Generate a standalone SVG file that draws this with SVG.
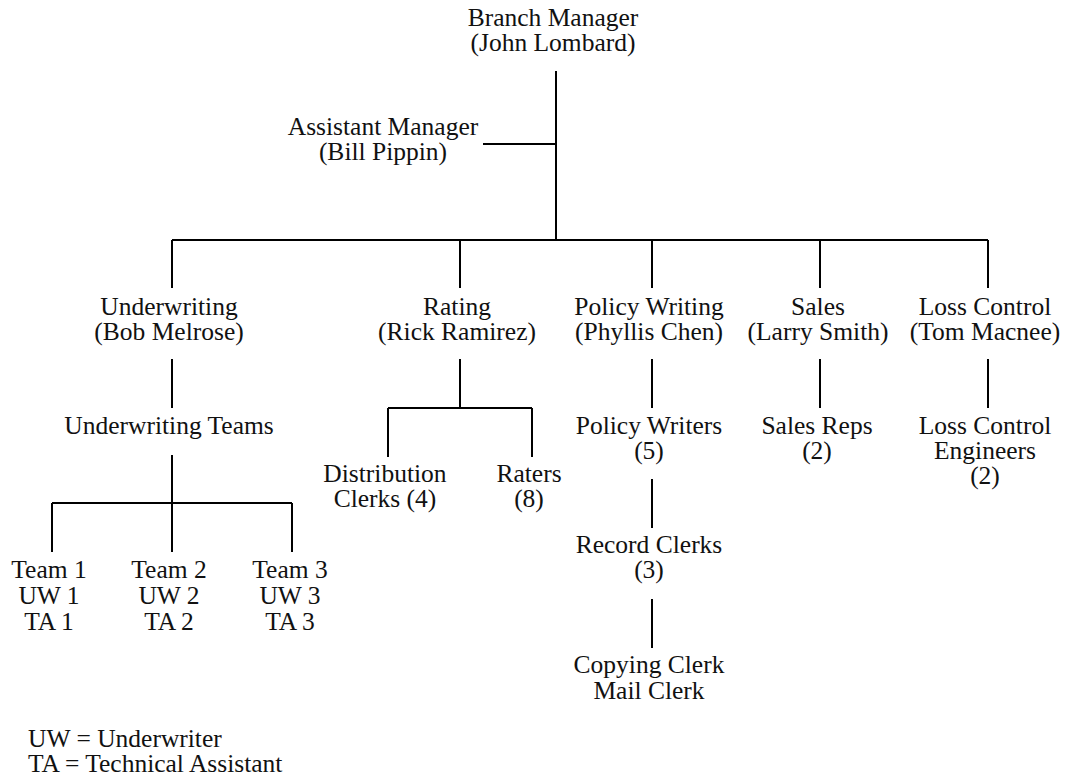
<svg xmlns="http://www.w3.org/2000/svg" width="1066" height="779" viewBox="0 0 1066 779">
<style>
text{font-family:"Palatino Linotype","Book Antiqua",Palatino,"Liberation Serif",serif;font-size:25.5px;fill:#111;text-anchor:middle}
.l{text-anchor:start}
.c{fill:none;stroke:#000;stroke-width:2}
</style>
<rect width="1066" height="779" fill="#fff"/>
<g id="connectors" class="c">
<path d="M556,71V240M483,144H556M172,240H988"/>
<path d="M172,240V288M460,240V288M652,240V288M820,240V288M988,240V288"/>
<path d="M172,359V408M172,455V503M52,503H292M52,503V552M172,503V552M292,503V552"/>
<path d="M460,359V408M388,408H532M388,408V457M532,408V457"/>
<path d="M652,359V408M652,479V528M652,599V648"/>
<path d="M820,359V408M988,359V408"/>
</g>
<g id="branch-manager"><text x="553" y="26">Branch Manager<tspan x="553" dy="25">(John Lombard)</tspan></text></g>
<g id="assistant-manager"><text x="383" y="135">Assistant Manager<tspan x="383" dy="25">(Bill Pippin)</tspan></text></g>
<g id="underwriting"><text x="169" y="315">Underwriting<tspan x="169" dy="25">(Bob Melrose)</tspan></text></g>
<g id="rating"><text x="457" y="315">Rating<tspan x="457" dy="25">(Rick Ramirez)</tspan></text></g>
<g id="policy-writing"><text x="649" y="315">Policy Writing<tspan x="649" dy="25">(Phyllis Chen)</tspan></text></g>
<g id="sales"><text x="818" y="315">Sales<tspan x="818" dy="25">(Larry Smith)</tspan></text></g>
<g id="loss-control"><text x="985" y="315">Loss Control<tspan x="985" dy="25">(Tom Macnee)</tspan></text></g>
<g id="underwriting-teams"><text x="169" y="434">Underwriting Teams</text></g>
<g id="distribution-clerks"><text x="385" y="482">Distribution<tspan x="385" dy="25">Clerks (4)</tspan></text></g>
<g id="raters"><text x="529" y="482">Raters<tspan x="529" dy="25">(8)</tspan></text></g>
<g id="policy-writers"><text x="649" y="434">Policy Writers<tspan x="649" dy="25">(5)</tspan></text></g>
<g id="sales-reps"><text x="817" y="434">Sales Reps<tspan x="817" dy="25">(2)</tspan></text></g>
<g id="loss-control-engineers"><text x="985" y="434">Loss Control<tspan x="985" dy="25">Engineers</tspan><tspan x="985" dy="25">(2)</tspan></text></g>
<g id="record-clerks"><text x="649" y="553">Record Clerks<tspan x="649" dy="25">(3)</tspan></text></g>
<g id="copying-mail-clerk"><text x="649" y="673">Copying Clerk<tspan x="649" dy="26">Mail Clerk</tspan></text></g>
<g id="team-1"><text x="49" y="578">Team 1<tspan x="49" dy="26">UW 1</tspan><tspan x="49" dy="26">TA 1</tspan></text></g>
<g id="team-2"><text x="169" y="578">Team 2<tspan x="169" dy="26">UW 2</tspan><tspan x="169" dy="26">TA 2</tspan></text></g>
<g id="team-3"><text x="290" y="578">Team 3<tspan x="290" dy="26">UW 3</tspan><tspan x="290" dy="26">TA 3</tspan></text></g>
<g id="legend"><text class="l" x="28" y="747">UW = Underwriter<tspan x="28" dy="25">TA = Technical Assistant</tspan></text></g>
</svg>
